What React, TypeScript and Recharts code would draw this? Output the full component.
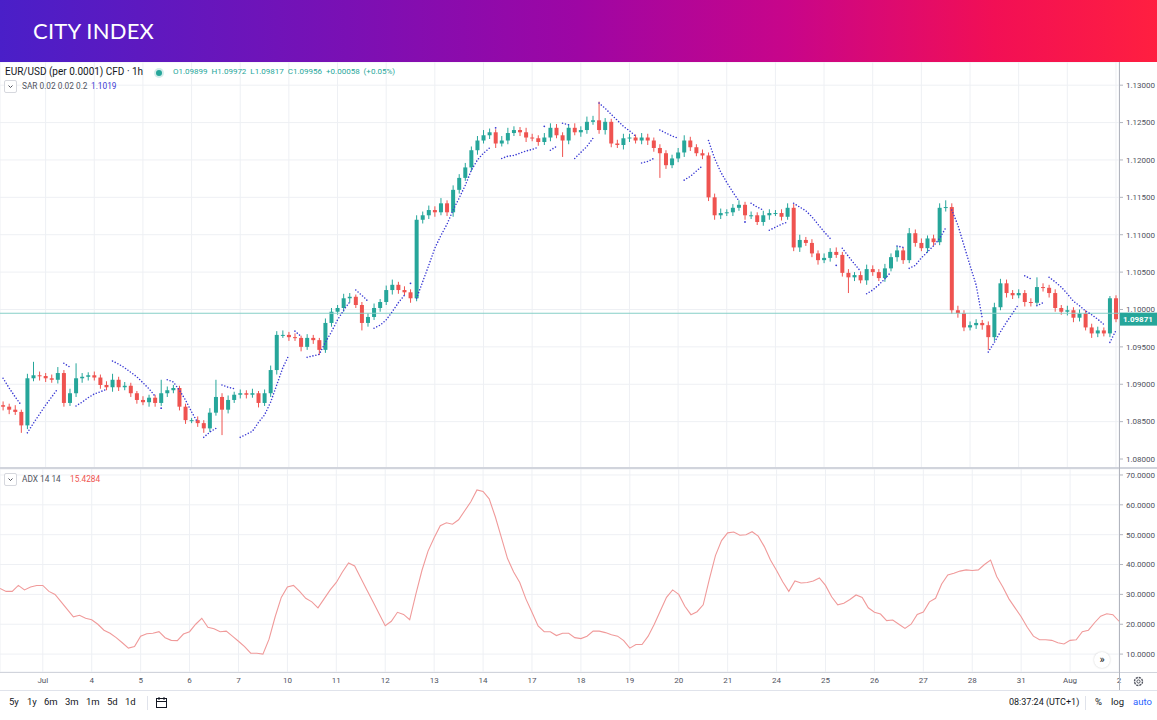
import {
  Bar,
  CartesianGrid,
  ComposedChart,
  Line,
  ReferenceLine,
  XAxis,
  YAxis,
} from "recharts";

// 3-hour candles, prices stored in pips above 1.0800
const BASE = 1.08;
const FIRST_OPEN = 72;
const CANDLES_PER_DAY = 8;
const FIRST_DAY_CANDLE = 7;

const CLOSE = [
  70, 66, 63, 45, 108, 112, 111, 108, 106, 115,
  75, 88, 108, 110, 112, 109, 99, 96, 106, 96,
  98, 88, 79, 76, 82, 75, 88, 92, 95, 70,
  52, 52, 48, 41, 62, 83, 66, 79, 86, 88,
  86, 88, 75, 88, 119, 166, 166, 163, 162, 150,
  162, 159, 146, 182, 197, 202, 215, 217, 206, 182,
  190, 202, 210, 226, 233, 226, 223, 215, 320, 326,
  333, 330, 342, 330, 360, 376, 390, 413, 426, 433,
  437, 422, 426, 436, 440, 437, 430, 429, 424, 430,
  443, 433, 426, 443, 437, 440, 451, 453, 440, 451,
  422, 420, 429, 430, 426, 430, 426, 416, 409, 393,
  402, 410, 426, 417, 409, 406, 350, 326, 329, 330,
  336, 340, 326, 326, 317, 326, 329, 329, 324, 336,
  283, 293, 289, 275, 266, 269, 277, 273, 249, 243,
  246, 239, 254, 250, 242, 255, 270, 279, 266, 302,
  289, 282, 295, 290, 336, 337, 199, 195, 176, 179,
  182, 179, 163, 203, 235, 222, 219, 222, 210, 209,
  230, 229, 222, 202, 197, 199, 189, 195, 176, 168,
  172, 168, 215, 187,
];

const UP_WICK = [
  5, 4, 6, 3, 6, 18, 5, 4, 5, 8,
  4, 6, 20, 5, 4, 5, 4, 5, 8, 4,
  5, 4, 3, 5, 4, 4, 18, 5, 4, 3,
  4, 3, 5, 4, 6, 23, 5, 6, 4, 5,
  4, 6, 3, 5, 6, 5, 6, 4, 5, 3,
  5, 4, 3, 6, 5, 4, 6, 5, 3, 4,
  5, 6, 4, 6, 7, 4, 5, 4, 6, 5,
  6, 5, 7, 4, 6, 5, 6, 5, 6, 7,
  5, 4, 6, 7, 5, 4, 6, 5, 4, 6,
  6, 5, 4, 5, 6, 5, 7, 6, 25, 5,
  4, 5, 6, 5, 4, 6, 5, 4, 5, 4,
  5, 6, 7, 5, 4, 5, 4, 5, 6, 4,
  5, 6, 4, 5, 4, 6, 5, 4, 5, 6,
  5, 7, 4, 5, 4, 6, 5, 6, 4, 5,
  4, 5, 6, 5, 4, 6, 5, 6, 4, 7,
  5, 6, 4, 5, 6, 9, 5, 6, 4, 5,
  5, 4, 5, 6, 6, 5, 4, 5, 4, 5,
  13, 5, 4, 5, 4, 6, 4, 5, 4, 5,
  5, 4, 3, 4,
];

const DOWN_WICK = [
  5, 6, 4, 10, 5, 4, 6, 5, 4, 5,
  5, 4, 5, 6, 5, 4, 5, 4, 6, 5,
  4, 5, 5, 4, 6, 5, 4, 5, 4, 5,
  5, 4, 5, 6, 5, 4, 34, 5, 4, 5,
  5, 4, 6, 4, 5, 6, 4, 5, 4, 6,
  4, 5, 7, 4, 5, 4, 5, 6, 4, 10,
  5, 4, 5, 4, 6, 5, 4, 6, 4, 5,
  5, 6, 4, 5, 6, 5, 4, 5, 6, 4,
  5, 6, 4, 5, 4, 5, 6, 4, 5, 4,
  5, 4, 22, 5, 4, 6, 5, 4, 5, 6,
  5, 4, 6, 5, 4, 5, 6, 5, 33, 5,
  4, 5, 6, 5, 4, 5, 5, 6, 5, 4,
  5, 4, 6, 5, 4, 5, 6, 4, 5, 4,
  5, 6, 4, 5, 6, 4, 5, 4, 5, 21,
  5, 4, 6, 5, 4, 5, 4, 6, 5, 4,
  5, 4, 6, 5, 4, 5, 5, 6, 5, 4,
  5, 6, 17, 5, 4, 6, 5, 4, 6, 5,
  4, 5, 6, 5, 4, 5, 6, 5, 4, 6,
  5, 4, 5, 4,
];

const SAR = [
  108, 95, 83, 72, 35, 48, 60, 72, 83, 94,
  128, 123, 71, 76, 82, 87, 90, 93, 131, 127,
  122, 116, 110, 102, 94, 84, 68, 106, 103, 92,
  79, 63, 49, 29, 36, 41, 99, 96, 94, 29,
  33, 37, 49, 59, 76, 99, 122, 139, 171, 164,
  136, 138, 140, 156, 170, 186, 199, 210, 226, 219,
  211, 175, 179, 186, 197, 209, 219, 235, 215, 237,
  259, 282, 299, 314, 333, 349, 366, 386, 400, 409,
  416, 443, 402, 405, 406, 409, 412, 414, 417, 445,
  413, 418, 449, 447, 402, 410, 418, 429, 476, 469,
  461, 453, 445, 439, 432, 396, 398, 402, 440, 436,
  432, 429, 373, 378, 385, 392, 426, 402, 384, 370,
  357, 345, 317, 342, 337, 333, 306, 310, 314, 317,
  342, 337, 332, 324, 314, 304, 295, 259, 282, 271,
  261, 251, 221, 226, 233, 241, 250, 285, 283, 255,
  259, 269, 277, 285, 295, 309, 333, 313, 286, 259,
  233, 189, 143, 156, 170, 183, 195, 207, 245, 241,
  205, 209, 243, 237, 230, 221, 211, 205, 198, 193,
  187, 180, 156, 172,
];

const ADX = [
  32, 31, 31, 33, 31.5, 32.5, 33, 33, 31, 30,
  27.5, 25, 22.5, 23, 22, 21.5, 20, 18, 17, 15.5,
  13.8, 12, 12.5, 16, 16.8, 17, 17.5, 15.5, 14.6, 14.5,
  16.7, 17.5, 20, 22, 19, 18.5, 17.5, 17.7, 16, 14.3,
  12.5, 10.3, 10.3, 10, 15, 22.5, 29, 32.5, 33, 31,
  28.7, 27.5, 25.5, 28.5, 31.5, 34, 37.5, 40.5, 39.5, 35.5,
  31.5, 27.5, 23.5, 19.5, 21, 24, 23.3, 21.5, 30, 38,
  44.5, 49, 53, 54, 53.5, 55, 58, 61, 65, 64.5,
  62, 56, 49, 42, 37.5, 34, 28.5, 24, 19.4, 17.5,
  17.5, 16.2, 17, 17, 15.5, 15.2, 16, 17.7, 17.7, 17.2,
  16.5, 16, 14.5, 12, 13.2, 13.2, 16, 20, 24.5, 29,
  31.5, 30, 26, 23.2, 24.2, 26.5, 35, 43, 48, 50.6,
  50.9, 49.8, 50, 51, 49.5, 46, 41.5, 38, 34.2, 31,
  34.5, 33.8, 34, 34.5, 35.5, 33, 29.2, 26.5, 27, 28.3,
  29.8, 29, 25.5, 24, 23.4, 21.2, 21.4, 20, 18.6, 20,
  23.3, 24.1, 27.5, 28.7, 33.5, 36.5, 37.1, 37.8, 38.2, 38,
  38.2, 40, 41.5, 36, 32.5, 28.5, 25.5, 22.5, 19, 16,
  14.8, 14.8, 14.6, 13.8, 13.4, 14.6, 14.8, 17.5, 18, 20.5,
  22.7, 23.5, 23.2, 21,
];

const DAY_LABELS = [
  "Jul", "4", "5", "6", "7", "10", "11", "12", "13", "14", "17", "18",
  "19", "20", "21", "24", "25", "26", "27", "28", "31", "Aug", "2",
];

const PRICE_TICKS = [1.08, 1.085, 1.09, 1.095, 1.1, 1.105, 1.11, 1.115, 1.12, 1.125, 1.13];
const ADX_TICKS = [10, 20, 30, 40, 50, 60, 70];
const PRICE_LINE = 1.0995;
const LAST_PRICE = 1.09871;
const RANGES = ["5y", "1y", "6m", "3m", "1m", "5d", "1d"];

const UP = "#26a69a";
const DOWN = "#ef5350";
const SAR_COLOR = "#3a3ad4";
const ADX_COLOR = "#f09a9a";
const GRID = "#eef0f4";
const TEXT = "#50535e";
const FONT = "Roboto, 'Noto Sans', sans-serif";

const px = (p: number) => +(BASE + p / 10000).toFixed(5);

const rows: any[] = [];
let seg = 0;
CLOSE.forEach((c, i) => {
  const open = i === 0 ? FIRST_OPEN : CLOSE[i - 1];
  const high = Math.max(open, c) + UP_WICK[i];
  const low = Math.min(open, c) - DOWN_WICK[i];
  const above = SAR[i] > c;
  if (i > 0 && above !== rows[i - 1].above) seg++;
  rows.push({
    i,
    open: px(open),
    close: px(c),
    high: px(high),
    low: px(low),
    range: [px(low), px(high)],
    above,
    sarA: seg % 2 === 0 ? px(SAR[i]) : null,
    sarB: seg % 2 === 1 ? px(SAR[i]) : null,
    adx: ADX[i],
  });
});

const dayTicks = DAY_LABELS.map((_, d) => FIRST_DAY_CANDLE + d * CANDLES_PER_DAY);
const dayLabel = (v: number) =>
  DAY_LABELS[Math.round((v - FIRST_DAY_CANDLE) / CANDLES_PER_DAY)] ?? "";

function Candle(props: any) {
  const { x, y, width, height, payload } = props;
  if (!payload) return null;
  const { open, close, high, low } = payload;
  const top = Math.min(y, y + height);
  const h = Math.abs(height);
  const k = h / (high - low);
  const yO = top + (high - open) * k;
  const yC = top + (high - close) * k;
  const color = close >= open ? UP : DOWN;
  const cx = x + width / 2;
  return (
    <g>
      <line x1={cx} x2={cx} y1={top} y2={top + h} stroke={color} strokeWidth={1} />
      <rect
        x={x}
        y={Math.min(yO, yC)}
        width={width}
        height={Math.max(1, Math.abs(yO - yC))}
        fill={color}
      />
    </g>
  );
}

const sarDot = (key: "sarA" | "sarB") => (p: any) => {
  const i = p.index;
  const lone =
    rows[i][key] != null && rows[i - 1]?.[key] == null && rows[i + 1]?.[key] == null;
  return (
    <circle
      key={`${key}-${i}`}
      cx={p.cx ?? 0}
      cy={p.cy ?? 0}
      r={lone && p.cy != null ? 0.9 : 0}
      fill={SAR_COLOR}
    />
  );
};

function PriceTag(props: any) {
  const vb = props.viewBox;
  if (!vb) return null;
  const x = vb.x + vb.width;
  return (
    <g>
      <rect x={x} y={vb.y - 6.5} width={38} height={13} fill={UP} />
      <text x={x + 4} y={vb.y + 3} fill="#fff" fontSize={8} fontWeight={700} fontFamily={FONT}>
        {LAST_PRICE.toFixed(5)}
      </text>
    </g>
  );
}

const tickStyle = { fontSize: 8, fill: TEXT, fontFamily: FONT };

const abs = (left: number, top: number, extra: any = {}) => ({
  position: "absolute" as const,
  left,
  top,
  ...extra,
});

function Chevron({ left, top }: { left: number; top: number }) {
  return (
    <div
      style={abs(left, top, {
        width: 11,
        height: 11,
        border: "1px solid #d6d8de",
        borderRadius: 2,
        background: "#fff",
      })}
    >
      <svg width={11} height={11} style={{ display: "block" }}>
        <path d="M3.5 4.5 L5.5 6.5 L7.5 4.5" stroke="#50535e" strokeWidth={1} fill="none" />
      </svg>
    </div>
  );
}

export default function App() {
  return (
    <div
      style={{
        position: "absolute",
        left: 0,
        top: 0,
        width: 1157,
        height: 720,
        background: "#fff",
        overflow: "hidden",
        fontFamily: FONT,
      }}
    >
      {/* banner */}
      <div
        style={abs(0, 0, {
          width: 1157,
          height: 62,
          background:
            "linear-gradient(90deg, #4a1fc8 0%, #7a10b4 30%, #9e06a4 50%, #c8058a 68%, #f20f55 86%, #ff1f40 100%)",
        })}
      >
        <div
          style={abs(33, 17, {
            color: "#fff",
            fontFamily: "Lato, 'Open Sans', sans-serif",
            fontSize: 22,
            fontWeight: 400,
            letterSpacing: 0.2,
          })}
        >
          CITY INDEX
        </div>
      </div>

      {/* price pane */}
      <div style={abs(0, 62)}>
        <ComposedChart
          width={1157}
          height={406}
          data={rows}
          margin={{ top: 0, right: 0, left: 0, bottom: 0 }}
          barCategoryGap="18%"
        >
          <CartesianGrid stroke={GRID} />
          <XAxis dataKey="i" type="category" hide ticks={dayTicks} interval={0} />
          <YAxis
            orientation="right"
            width={38}
            domain={[1.0788, 1.1331]}
            allowDataOverflow
            ticks={PRICE_TICKS}
            tickFormatter={(v: number) => v.toFixed(5)}
            tick={tickStyle}
            tickSize={4}
            tickMargin={3}
            axisLine={false}
            tickLine={{ stroke: "#b2b5be" }}
          />
          <ReferenceLine y={PRICE_LINE} stroke="#86cfc7" strokeWidth={1.2} />
          <Bar dataKey="range" shape={Candle} isAnimationActive={false} />
          {(["sarA", "sarB"] as const).map((k) => (
            <Line
              key={k}
              dataKey={k}
              type="linear"
              stroke={SAR_COLOR}
              strokeWidth={1.6}
              strokeDasharray="0 3"
              strokeLinecap="round"
              dot={sarDot(k)}
              activeDot={false}
              isAnimationActive={false}
            />
          ))}
          <ReferenceLine y={LAST_PRICE} stroke="none" label={<PriceTag />} />
        </ComposedChart>
      </div>

      {/* ADX pane */}
      <div style={abs(0, 469)}>
        <ComposedChart
          width={1157}
          height={221}
          data={rows}
          margin={{ top: 0, right: 0, left: 0, bottom: 0 }}
        >
          <CartesianGrid stroke={GRID} />
          <XAxis
            dataKey="i"
            type="category"
            ticks={dayTicks}
            interval={0}
            tickFormatter={dayLabel}
            tick={tickStyle}
            tickSize={0}
            tickMargin={5}
            axisLine={false}
            tickLine={false}
            height={18}
          />
          <YAxis
            orientation="right"
            width={38}
            domain={[4, 72]}
            allowDataOverflow
            ticks={ADX_TICKS}
            tickFormatter={(v: number) => v.toFixed(4)}
            tick={tickStyle}
            tickSize={4}
            tickMargin={3}
            axisLine={false}
            tickLine={{ stroke: "#b2b5be" }}
          />
          <Line
            dataKey="adx"
            type="linear"
            stroke={ADX_COLOR}
            strokeWidth={1.1}
            dot={false}
            activeDot={false}
            isAnimationActive={false}
          />
        </ComposedChart>
      </div>

      {/* frame lines */}
      <div style={abs(0, 467, { width: 1157, height: 2, background: "#d1d4dc" })} />
      <div style={abs(0, 672, { width: 1157, height: 1, background: "#d1d4dc" })} />
      <div style={abs(0, 690, { width: 1157, height: 1, background: "#e0e3eb" })} />
      <div style={abs(1119, 62, { width: 1, height: 628, background: "#b2b5be" })} />

      {/* legends */}
      <div style={abs(5, 66, { fontSize: 10, color: "#131722", whiteSpace: "nowrap" })}>
        EUR/USD (per 0.0001) CFD · 1h
      </div>
      <div
        style={abs(156, 70, {
          width: 6,
          height: 6,
          borderRadius: 3,
          background: UP,
          boxShadow: "0 0 0 2px rgba(38,166,154,0.2)",
        })}
      />
      <div style={abs(173, 67, { fontSize: 8, color: UP, whiteSpace: "nowrap", wordSpacing: 2 })}>
        O1.09899 H1.09972 L1.09817 C1.09956 +0.00058 (+0.05%)
      </div>
      <Chevron left={4} top={80} />
      <div style={abs(22, 81, { fontSize: 8.3, color: TEXT, whiteSpace: "nowrap" })}>
        SAR 0.02 0.02 0.2
      </div>
      <div style={abs(91, 81, { fontSize: 8.3, color: SAR_COLOR, whiteSpace: "nowrap" })}>1.1019</div>

      <Chevron left={4} top={473} />
      <div style={abs(22, 474, { fontSize: 8.3, color: TEXT, whiteSpace: "nowrap" })}>ADX 14 14</div>
      <div style={abs(70, 474, { fontSize: 8.3, color: "#ef5350", whiteSpace: "nowrap" })}>15.4284</div>

      {/* scroll button */}
      <div
        style={abs(1094, 652, {
          width: 16,
          height: 16,
          borderRadius: 8,
          background: "#fff",
          boxShadow: "0 0 2px rgba(0,0,0,0.2)",
          fontSize: 11,
          lineHeight: "15px",
          textAlign: "center",
          color: "#131722",
        })}
      >
        »
      </div>

      {/* gear */}
      <svg style={abs(1132, 675)} width={13} height={13}>
        <circle cx={6.5} cy={6.5} r={4} stroke="#50535e" strokeWidth={1.4} fill="none" strokeDasharray="2.2 0.9" />
        <circle cx={6.5} cy={6.5} r={1.6} stroke="#50535e" strokeWidth={1} fill="none" />
      </svg>

      {/* bottom toolbar */}
      {RANGES.map((r, k) => (
        <div
          key={r}
          style={abs([9, 27, 44, 65, 86, 107, 125][k], 696, { fontSize: 9.5, color: "#131722" })}
        >
          {r}
        </div>
      ))}
      <div style={abs(147, 696, { width: 1, height: 14, background: "#e0e3eb" })} />
      <svg style={abs(155, 696)} width={13} height={13}>
        <rect x={1.5} y={2.5} width={10} height={9} stroke="#131722" strokeWidth={1} fill="none" />
        <path d="M1.5 5.5 H11.5 M4 1 V4 M9 1 V4" stroke="#131722" strokeWidth={1} />
      </svg>
      <div style={abs(1009, 697, { fontSize: 9, color: "#131722" })}>08:37:24 (UTC+1)</div>
      <div style={abs(1085, 696, { width: 1, height: 14, background: "#e0e3eb" })} />
      <div style={abs(1095, 696, { fontSize: 9.5, color: "#131722" })}>%</div>
      <div style={abs(1111, 696, { fontSize: 9.5, color: "#131722" })}>log</div>
      <div style={abs(1133, 696, { fontSize: 9.5, color: "#2962ff" })}>auto</div>
    </div>
  );
}
